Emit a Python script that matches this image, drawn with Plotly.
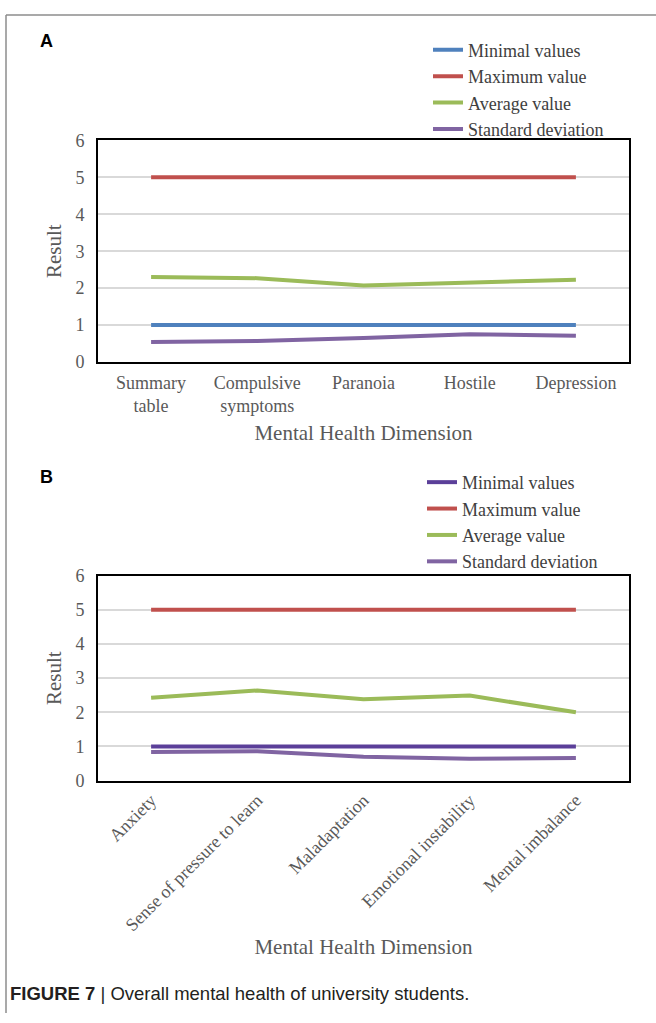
import plotly.graph_objects as go

cats_a = ["Summary<br>table", "Compulsive<br>symptoms", "Paranoia", "Hostile", "Depression"]
min_a = [1, 1, 1, 1, 1]
max_a = [5, 5, 5, 5, 5]
avg_a = [2.30, 2.27, 2.07, 2.16, 2.23]
sd_a = [0.54, 0.57, 0.65, 0.75, 0.71]

cats_b = ["Anxiety", "Sense of pressure to learn", "Maladaptation", "Emotional instability", "Mental imbalance"]
min_b = [1, 1, 1, 1, 1]
max_b = [5, 5, 5, 5, 5]
avg_b = [2.43, 2.64, 2.38, 2.49, 2.00]
sd_b = [0.84, 0.86, 0.70, 0.64, 0.66]

series_names = ["Minimal values", "Maximum value", "Average value", "Standard deviation"]
colors_a = ["#4F81BD", "#C0504D", "#9BBB59", "#8064A2"]
colors_b = ["#5B3F99", "#C0504D", "#9BBB59", "#8064A2"]

W, H = 656, 1023
SERIF = "Liberation Serif, Times New Roman, serif"
GRAY = "#595959"

fig = go.Figure()
for name, vals, col in zip(series_names, [min_a, max_a, avg_a, sd_a], colors_a):
    fig.add_trace(go.Scatter(x=cats_a, y=vals, name=name, mode="lines",
                             line=dict(color=col, width=4), xaxis="x", yaxis="y",
                             legend="legend"))
for name, vals, col in zip(series_names, [min_b, max_b, avg_b, sd_b], colors_b):
    fig.add_trace(go.Scatter(x=cats_b, y=vals, name=name, mode="lines",
                             line=dict(color=col, width=4), xaxis="x2", yaxis="y2",
                             legend="legend2"))

def px_x(p):
    return p / W

def px_y(p):
    return 1 - p / H

axis_common = dict(showline=True, linecolor="black", linewidth=2, mirror=True,
                   ticks="", tickfont=dict(family=SERIF, size=18, color=GRAY))
yaxis_common = dict(axis_common, range=[0, 6], dtick=1, showgrid=True,
                    gridcolor="#D9D9D9", gridwidth=1.5, zeroline=False, ticklabelstandoff=8,
                    title=dict(text="Result", font=dict(family=SERIF, size=21, color=GRAY), standoff=8))
xtitle_font = dict(family=SERIF, size=21, color=GRAY)
leg_font = dict(family=SERIF, size=18, color="#404040")

fig.update_layout(
    width=W, height=H, margin=dict(l=0, r=0, t=0, b=0),
    paper_bgcolor="white", plot_bgcolor="white",
    showlegend=True,
    xaxis=dict(axis_common, domain=[px_x(98), px_x(629)], anchor="y", range=[-0.5, 4.5],
               showgrid=False, type="category", ticklabelstandoff=3,
               title=dict(text="Mental Health Dimension", font=xtitle_font, standoff=10)),
    yaxis=dict(yaxis_common, domain=[px_y(359), px_y(133)], anchor="x"),
    xaxis2=dict(axis_common, domain=[px_x(98), px_x(629)], anchor="y2", range=[-0.5, 4.5],
                showgrid=False, type="category", tickangle=-45,
                title=dict(text="Mental Health Dimension", font=xtitle_font, standoff=4)),
    yaxis2=dict(yaxis_common, domain=[px_y(786), px_y(577)], anchor="x2"),
    legend=dict(x=px_x(428), y=px_y(22), xanchor="left", yanchor="top",
                font=leg_font, bgcolor="rgba(0,0,0,0)",
                tracegroupgap=0, itemwidth=30),
    legend2=dict(x=px_x(422), y=px_y(463), xanchor="left", yanchor="top",
                 font=leg_font, bgcolor="rgba(0,0,0,0)",
                 tracegroupgap=0, itemwidth=30),
    shapes=[
        dict(type="line", xref="paper", yref="paper", x0=px_x(6), x1=1, y0=px_y(5), y1=px_y(5),
             line=dict(color="#8C8C8C", width=1.5)),
        dict(type="line", xref="paper", yref="paper", x0=px_x(6), x1=px_x(6), y0=px_y(5), y1=0,
             line=dict(color="#8C8C8C", width=1.5)),
    ],
    annotations=[
        dict(text="<b>A</b>", xref="paper", yref="paper", x=px_x(38), y=px_y(32), xanchor="left",
             yanchor="middle", showarrow=False, font=dict(family="Liberation Sans, Arial", size=18, color="black")),
        dict(text="<b>B</b>", xref="paper", yref="paper", x=px_x(38), y=px_y(476), xanchor="left",
             yanchor="middle", showarrow=False, font=dict(family="Liberation Sans, Arial", size=18, color="black")),
        dict(text="<b>FIGURE 7</b> | Overall mental health of university students.", xref="paper", yref="paper",
             x=px_x(8), y=px_y(1003), xanchor="left", yanchor="middle", showarrow=False,
             font=dict(family="Liberation Sans, Arial", size=18.5, color="#231F20")),
    ],
)

fig.write_html("out.html")
